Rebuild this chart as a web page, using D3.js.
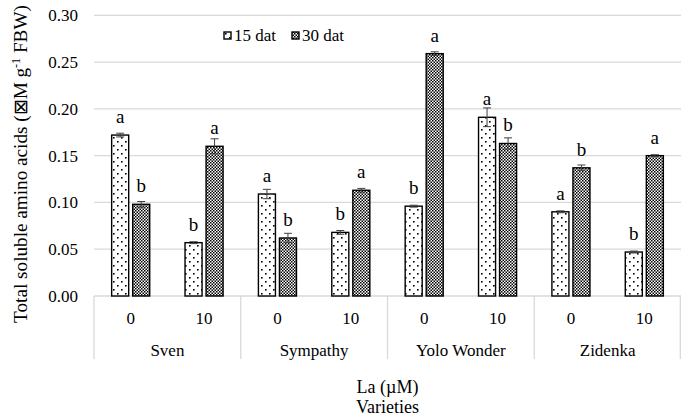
<!DOCTYPE html>
<meta charset="utf-8">
<style>
body { margin: 0; background: #fff; }
svg text { font-family: "Liberation Serif"; fill: #000; }
</style>
<svg width="681" height="420" font-family="Liberation Serif"></svg>
<script src="https://d3js.org/d3.v7.min.js"></script>
<script>
var varieties = ["Sven", "Sympathy", "Yolo Wonder", "Zidenka"];
var laLevels = ["0", "10"];
var series = ["15 dat", "30 dat"];

// values per variety x La level, in order Sven 0, Sven 10, Sympathy 0, ...
var values15 = [0.172, 0.057, 0.109, 0.068, 0.096, 0.191, 0.090, 0.047];
var values30 = [0.098, 0.160, 0.062, 0.113, 0.259, 0.163, 0.137, 0.150];
var err15 = [0.002, 0.001, 0.005, 0.002, 0.001, 0.010, 0.001, 0.001];
var err30 = [0.003, 0.008, 0.005, 0.002, 0.002, 0.006, 0.003, 0.001];
var letters15 = ["a", "b", "a", "b", "b", "a", "a", "b"];
var letters30 = ["b", "a", "b", "a", "a", "b", "b", "a"];
var yTicks = [0, 0.05, 0.10, 0.15, 0.20, 0.25, 0.30];

var svg = d3.select("svg"),
    margin = {top: 15.3, right: 0, bottom: 124, left: 94},
    width = +svg.attr("width"),
    height = +svg.attr("height");

var y = d3.scaleLinear()
    .domain([0, 0.30])
    .range([height - margin.bottom, margin.top]);

var x0 = d3.scaleBand()
    .domain(varieties)
    .range([margin.left, width - margin.right]);

var x1 = d3.scaleBand()
    .domain(laLevels)
    .range([0, x0.bandwidth()]);

var x2 = d3.scaleBand()
    .domain(series)
    .range([0, x1.bandwidth()])
    .paddingInner(0.19)
    .paddingOuter(0.84);

var defs = svg.append("defs");

// sparse dots for 15 dat
var p1 = defs.append("pattern")
    .attr("id", "dots")
    .attr("patternUnits", "userSpaceOnUse")
    .attr("width", 8).attr("height", 8);
p1.append("rect").attr("width", 8).attr("height", 8).attr("fill", "#fff");
p1.append("rect").attr("x", 1).attr("y", 1).attr("width", 1.6).attr("height", 1.6).attr("fill", "#000");
p1.append("rect").attr("x", 5).attr("y", 5).attr("width", 1.6).attr("height", 1.6).attr("fill", "#000");

// fine checker for 30 dat
var p2 = defs.append("pattern")
    .attr("id", "checker")
    .attr("patternUnits", "userSpaceOnUse")
    .attr("width", 3).attr("height", 3);
p2.append("rect").attr("width", 3).attr("height", 3).attr("fill", "#fff");
p2.append("rect").attr("width", 1.5).attr("height", 1.5).attr("fill", "#000");
p2.append("rect").attr("x", 1.5).attr("y", 1.5).attr("width", 1.5).attr("height", 1.5).attr("fill", "#000");

var fills = {"15 dat": "url(#dots)", "30 dat": "url(#checker)"};

// gridlines
svg.append("g")
  .selectAll("line")
  .data(yTicks.slice(1))
  .enter().append("line")
    .attr("x1", margin.left)
    .attr("x2", width - margin.right)
    .attr("y1", function(d) { return y(d); })
    .attr("y2", function(d) { return y(d); })
    .attr("stroke", "#d9d9d9")
    .attr("stroke-width", 1.3);

// y tick labels
svg.append("g")
  .selectAll("text")
  .data(yTicks)
  .enter().append("text")
    .attr("x", 78)
    .attr("y", function(d) { return y(d) + 6; })
    .attr("text-anchor", "end")
    .style("font-size", "17px")
    .text(function(d) { return d3.format(".2f")(d); });

// category axis box
var base = y(0);
svg.append("line")
    .attr("x1", margin.left).attr("x2", width - margin.right)
    .attr("y1", base).attr("y2", base)
    .attr("stroke", "#d9d9d9").attr("stroke-width", 1.3);

var bounds = varieties.map(function(v) { return x0(v); }).concat([x0.range()[1] - 0.7]);
svg.append("g")
  .selectAll("line")
  .data(bounds)
  .enter().append("line")
    .attr("x1", function(d) { return d; })
    .attr("x2", function(d) { return d; })
    .attr("y1", base)
    .attr("y2", 359)
    .attr("stroke", "#d9d9d9")
    .attr("stroke-width", 1.3);

// rows of data
var rows = [];
varieties.forEach(function(v, i) {
  laLevels.forEach(function(l, j) {
    var k = i * laLevels.length + j;
    rows.push({variety: v, la: l, s: "15 dat", value: values15[k], err: err15[k], letter: letters15[k]});
    rows.push({variety: v, la: l, s: "30 dat", value: values30[k], err: err30[k], letter: letters30[k]});
  });
});

function bx(d) { return x0(d.variety) + x1(d.la) + x2(d.s); }

var bars = svg.append("g");
bars.selectAll("rect")
  .data(rows)
  .enter().append("rect")
    .attr("x", bx)
    .attr("y", function(d) { return y(d.value); })
    .attr("width", x2.bandwidth())
    .attr("height", function(d) { return base - y(d.value); })
    .attr("fill", function(d) { return fills[d.s]; })
    .attr("stroke", "#000")
    .attr("stroke-width", 1.4);

// error bars
var eb = svg.append("g").attr("stroke", "#404040").attr("stroke-width", 1);
rows.forEach(function(d) {
  var cx = bx(d) + x2.bandwidth() / 2;
  eb.append("line").attr("x1", cx).attr("x2", cx)
    .attr("y1", y(d.value + d.err)).attr("y2", y(d.value - d.err));
  eb.append("line").attr("x1", cx - 4).attr("x2", cx + 4)
    .attr("y1", y(d.value + d.err)).attr("y2", y(d.value + d.err));
  eb.append("line").attr("x1", cx - 4).attr("x2", cx + 4)
    .attr("y1", y(d.value - d.err)).attr("y2", y(d.value - d.err));
});

// significance letters
svg.append("g")
  .selectAll("text")
  .data(rows)
  .enter().append("text")
    .attr("x", function(d) { return bx(d) + x2.bandwidth() / 2; })
    .attr("y", function(d) { return y(d.value) - 12; })
    .attr("text-anchor", "middle")
    .style("font-size", "19px")
    .text(function(d) { return d.letter; });

// La level labels
var ticks = [];
varieties.forEach(function(v) { laLevels.forEach(function(l) { ticks.push({v: v, l: l}); }); });
svg.append("g")
  .selectAll("text")
  .data(ticks)
  .enter().append("text")
    .attr("x", function(d) { return x0(d.v) + x1(d.l) + x1.bandwidth() / 2; })
    .attr("y", 324)
    .attr("text-anchor", "middle")
    .style("font-size", "17px")
    .text(function(d) { return d.l; });

// variety labels
svg.append("g")
  .selectAll("text")
  .data(varieties)
  .enter().append("text")
    .attr("x", function(d) { return x0(d) + x0.bandwidth() / 2; })
    .attr("y", 356)
    .attr("text-anchor", "middle")
    .style("font-size", "17px")
    .text(function(d) { return d; });

// axis titles
var midX = (x0.range()[0] + x0.range()[1]) / 2;
svg.append("text")
    .attr("x", midX).attr("y", 393)
    .attr("text-anchor", "middle")
    .style("font-size", "18px")
    .text("La (\u00b5M)");
svg.append("text")
    .attr("x", midX).attr("y", 413)
    .attr("text-anchor", "middle")
    .style("font-size", "18px")
    .text("Varieties");

var yt = svg.append("text")
    .attr("transform", "translate(27,164) rotate(-90)")
    .attr("text-anchor", "middle")
    .style("font-size", "19.2px");
yt.append("tspan").text("Total soluble amino acids (\u22a0M g");
yt.append("tspan").attr("dy", -7).style("font-size", "12px").text("-1");
yt.append("tspan").attr("dy", 7).text(" FBW)");

// legend
var legend = svg.append("g");
var lx = [224, 292];
series.forEach(function(s, i) {
  legend.append("rect")
    .attr("x", lx[i]).attr("y", 32)
    .attr("width", 7).attr("height", 7)
    .attr("fill", fills[s])
    .attr("stroke", "#000")
    .attr("stroke-width", 1.4);
  legend.append("text")
    .attr("x", lx[i] + 10).attr("y", 41)
    .style("font-size", "17px")
    .text(s);
});
</script>
